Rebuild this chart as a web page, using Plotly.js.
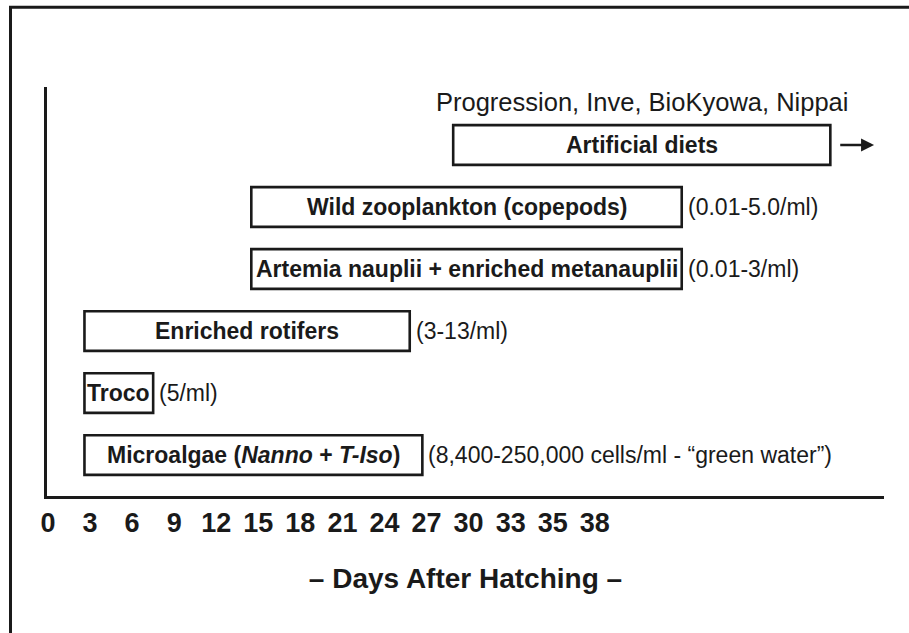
<!DOCTYPE html>
<html>
<head>
<meta charset="utf-8">
<script src="https://cdn.plot.ly/plotly-3.0.1.min.js"></script>
<style>html,body{margin:0;padding:0;background:#fff;}#chart{width:909px;height:633px;}</style>
</head>
<body>
<div id="chart"></div>
<script>
// ---- data (days after hatching) ----
const feeds = ["Microalgae (<i>Nanno</i> + <i>T-Iso</i>)", "Troco", "Enriched rotifers",
               "Artemia nauplii + enriched metanauplii", "Wild zooplankton (copepods)", "Artificial diets"];
const startDay = [2.6, 2.6, 2.6, 14.5, 14.5, 28.9];
const endDay   = [26.7, 7.5, 25.8, 44.2, 44.2, 54.8];
const densities = ["(8,400-250,000 cells/ml - \u201cgreen water\u201d)", "(5/ml)", "(3-13/ml)",
                   "(0.01-3/ml)", "(0.01-5.0/ml)", ""];
const dietBrands = "Progression, Inve, BioKyowa, Nippai";
const tickDays   = [0, 3, 6, 9, 12, 15, 18, 21, 24, 27, 30, 33, 35, 38];
const tickLabels = ["0", "3", "6", "9", "12", "15", "18", "21", "24", "27", "30", "33", "35", "38"];
const axisTitle  = "\u2013 Days After Hatching \u2013";

// The printed day scale is ordinal: each labelled day sits one step further along.
// Days are placed on that scale by interpolating between the labelled days.
function dayToStep(d) {
  const n = tickDays.length;
  if (d <= tickDays[0]) return 0;
  for (let k = 0; k < n - 1; k++) {
    if (d <= tickDays[k + 1]) return k + (d - tickDays[k]) / (tickDays[k + 1] - tickDays[k]);
  }
  const lastGap = tickDays[n - 1] - tickDays[n - 2];
  return (n - 1) + (d - tickDays[n - 1]) / lastGap;
}

const FONT = "Liberation Sans, Arial, Helvetica, sans-serif";
const INK = "#1a1a1a";
const rows = feeds.map((_, i) => i);
const s0 = startDay.map(dayToStep);
const s1 = endDay.map(dayToStep);

const trace = {
  type: "bar",
  orientation: "h",
  y: rows,
  base: s0,
  x: s1.map((e, i) => e - s0[i]),
  width: 0.64,
  marker: {color: "#ffffff", line: {color: INK, width: 2.6}},
  hoverinfo: "skip",
  showlegend: false
};

const annotations = [];
feeds.forEach((name, i) => {
  annotations.push({
    x: (s0[i] + s1[i]) / 2, y: i, xref: "x", yref: "y",
    text: name, showarrow: false, xanchor: "center", yanchor: "middle",
    font: {family: FONT, size: 23, color: INK, weight: 700}
  });
  if (densities[i]) {
    annotations.push({
      x: s1[i], y: i, xref: "x", yref: "y",
      text: densities[i], showarrow: false, xanchor: "left", yanchor: "middle",
      xshift: 4,
      font: {family: FONT, size: 23, color: INK}
    });
  }
});
const last = feeds.length - 1;
annotations.push({
  x: (s0[last] + s1[last]) / 2, y: last, xref: "x", yref: "y",
  text: dietBrands, showarrow: false, xanchor: "center", yanchor: "middle",
  yshift: 43,
  font: {family: FONT, size: 25.5, color: INK}
});
// continuation arrow to the right of the artificial diets box
annotations.push({
  x: s1[last] + 1.04, y: last, xref: "x", yref: "y",
  ax: s1[last] + 0.2, ay: last, axref: "x", ayref: "y",
  text: "", showarrow: true, arrowhead: 2, arrowsize: 1, arrowwidth: 2.6,
  arrowcolor: INK, standoff: 0, startstandoff: 0
});

const layout = {
  width: 909, height: 633,
  margin: {l: 47, r: 25, t: 87, b: 137, pad: 0},
  paper_bgcolor: "#ffffff", plot_bgcolor: "#ffffff",
  xaxis: {
    range: [-0.024, 19.876],
    showline: true, linecolor: INK, linewidth: 3,
    showgrid: false, zeroline: false, ticks: "",
    tickmode: "array", tickvals: tickDays.map(dayToStep), ticktext: tickLabels,
    tickangle: 0,
    tickfont: {family: FONT, size: 27, color: INK, weight: 700},
    ticklabelstandoff: 1,
    title: {text: axisTitle, font: {family: FONT, size: 28, color: INK, weight: 700}, standoff: 31},
    fixedrange: true
  },
  yaxis: {
    range: [-0.66, 5.935],
    showline: true, linecolor: INK, linewidth: 3,
    showgrid: false, zeroline: false, ticks: "", showticklabels: false,
    fixedrange: true
  },
  annotations: annotations,
  shapes: [{
    type: "path", xref: "paper", yref: "paper",
    path: "M -0.0436 -0.36 L -0.0436 1.195 L 1.05 1.195",
    line: {color: INK, width: 3}
  }]
};

Plotly.newPlot("chart", [trace], layout, {displayModeBar: false, staticPlot: true});
</script>
</body>
</html>
